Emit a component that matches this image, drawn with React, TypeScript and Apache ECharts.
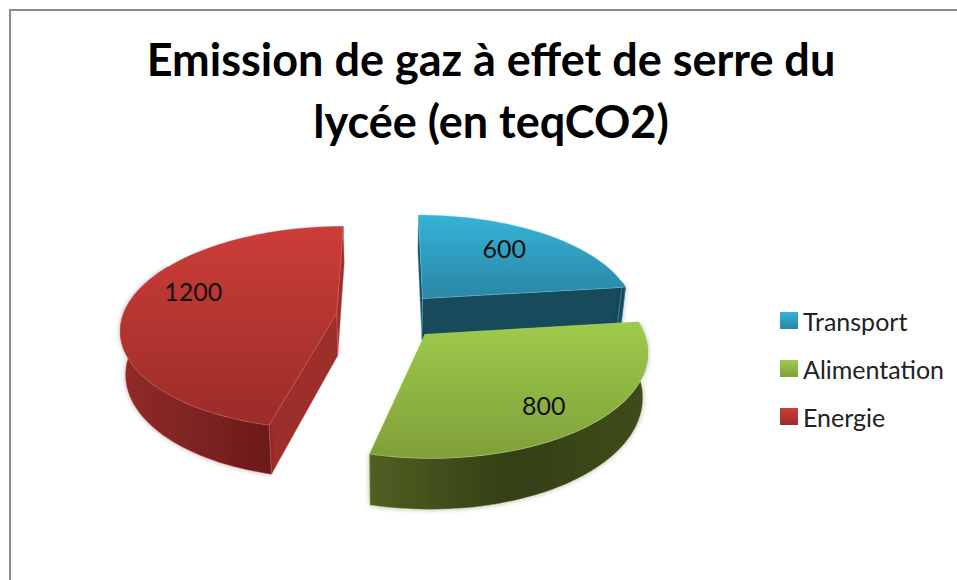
import React, { useEffect, useRef } from "react";
import * as echarts from "echarts";

const titleLines = ["Emission de gaz à effet de serre du", "lycée (en teqCO2)"];
const categories = ["Transport", "Alimentation", "Energie"];
const values = [600, 800, 1200];

const topColors = [
  ["#34b3d6", "#2a86a6"],
  ["#9fcb4b", "#7f9f3a"],
  ["#cc3d39", "#9a2c28"],
];
const wallStops = [
  ["#1b5467", "#174a5b", "#174a5b"],
  ["#505f22", "#343f15", "#3f4c1a"],
  ["#922b28", "#7e2422", "#6a1a1a"],
];
const radialColors = ["#174a5b", "#55691f", "#9e2e2a"];
const edgeColors = ["#62c5e0", "#b5d873", "#cf5f5b"];
const labelAngles = [37.5, 142, 288];
const labelRadii = [0.715, 0.775, 0.74];
const sliceNudgeX = [-0.003, 0, 0];

// projection of the pie's plane
const VIEW = { vx: 389, vy: 316, A: 214, B: 100.1, k: 0.144, explodeX: 0.247, explodeY: 0.24, depth: 42.5, shrink: 0.98 };

const total = values.reduce((a, b) => a + b, 0);
const rad = (d: number) => (d * Math.PI) / 180;

function project(X: number, Y: number, low: boolean) {
  const w = 1 + VIEW.k * Y;
  let x = VIEW.vx + (VIEW.A * X) / w;
  let y = VIEW.vy - (VIEW.B * Y) / w;
  if (low) {
    x = VIEW.vx + (x - VIEW.vx) * VIEW.shrink;
    y += VIEW.depth / w;
  }
  return [x, y];
}

function sliceSeries(index: number) {
  const before = values.slice(0, index).reduce((a, b) => a + b, 0);
  const grad = (c: string[]) =>
    new echarts.graphic.LinearGradient(0, 0, 0, 1, [
      { offset: 0, color: c[0] },
      { offset: 1, color: c[1] },
    ]);
  return {
    type: "custom",
    name: categories[index],
    coordinateSystem: "none",
    silent: true,
    itemStyle: { color: grad(topColors[index]) },
    data: [values[index]],
    renderItem: (_p: any, api: any) => {
      const v = api.value(0);
      const a0 = (before / total) * 360;
      const a1 = ((before + v) / total) * 360;
      const mid = rad((a0 + a1) / 2);
      const ox = Math.sin(mid) * VIEW.explodeX + sliceNudgeX[index];
      const oy = Math.cos(mid) * VIEW.explodeY;
      const pt = (deg: number, r: number, low: boolean) =>
        project(ox + r * Math.sin(rad(deg)), oy + r * Math.cos(rad(deg)), low);
      const arc = (from: number, to: number, low: boolean) => {
        const out: number[][] = [];
        const n = Math.max(2, Math.ceil(Math.abs(to - from) / 2));
        for (let i = 0; i <= n; i++) out.push(pt(from + ((to - from) * i) / n, 1, low));
        return out;
      };
      const children: any[] = [];
      [a0, a1].forEach((deg) => {
        children.push({
          type: "polygon",
          shape: { points: [pt(deg, 0, false), pt(deg, 1, false), pt(deg, 1, true), pt(deg, 0, true)] },
          style: { fill: radialColors[index], stroke: edgeColors[index], lineWidth: 0.4 },
        });
      });
      const wa = Math.max(a0, 80);
      const wb = Math.min(a1, 300);
      if (wb > wa) {
        const s = wallStops[index];
        children.push({
          type: "polygon",
          shape: { points: [...arc(wa, wb, false), ...arc(wb, wa, true)] },
          style: {
            fill: new echarts.graphic.LinearGradient(0, 0, 1, 0, [
              { offset: 0, color: s[0] },
              { offset: 0.5, color: s[1] },
              { offset: 1, color: s[2] },
            ]),
            stroke: edgeColors[index],
            lineWidth: 0.4,
            shadowBlur: 5,
            shadowColor: "rgba(0,0,0,0.3)",
          },
        });
      }
      children.push({
        type: "polygon",
        shape: { points: [pt(a0, 0, false), ...arc(a0, a1, false)] },
        style: { fill: grad(topColors[index]), stroke: edgeColors[index], lineWidth: 0.4 },
      });
      const lp = pt(labelAngles[index], labelRadii[index], false);
      children.push({
        type: "text",
        x: lp[0],
        y: lp[1],
        style: {
          text: String(v),
          fill: "#111111",
          fontSize: 25,
          fontFamily: "Lato, sans-serif",
          align: "center",
          verticalAlign: "middle",
        },
      });
      return { type: "group", children };
    },
  };
}

export default function App() {
  const ref = useRef<HTMLDivElement>(null);
  useEffect(() => {
    const chart = echarts.init(ref.current!, null, { renderer: "svg" });
    chart.setOption({
      animation: false,
      backgroundColor: "#ffffff",
      title: {
        text: titleLines.join("\n"),
        left: 486,
        top: 23,
        textAlign: "center",
        textStyle: {
          fontFamily: "Lato, sans-serif",
          fontWeight: "bold",
          fontSize: 45,
          lineHeight: 62,
          color: "#000000",
        },
      },
      legend: {
        orient: "vertical",
        left: 780,
        top: 308,
        padding: 0,
        itemWidth: 18,
        itemHeight: 17,
        itemGap: 23,
        itemStyle: { borderWidth: 0 },
        icon: "rect",
        data: categories,
        textStyle: { fontFamily: "Lato, sans-serif", fontSize: 25, lineHeight: 25, color: "#222222" },
        selectedMode: false,
      },
      graphic: [
        {
          type: "rect",
          shape: { x: 10, y: 10, width: 1100, height: 800 },
          style: { fill: "none", stroke: "#8c8c8c", lineWidth: 2 },
          silent: true,
          z: -1,
        },
      ],
      series: [0, 1, 2].map(sliceSeries),
    });
    return () => chart.dispose();
  }, []);
  return <div ref={ref} style={{ position: "absolute", left: 0, top: 0, width: 957, height: 580 }} />;
}
